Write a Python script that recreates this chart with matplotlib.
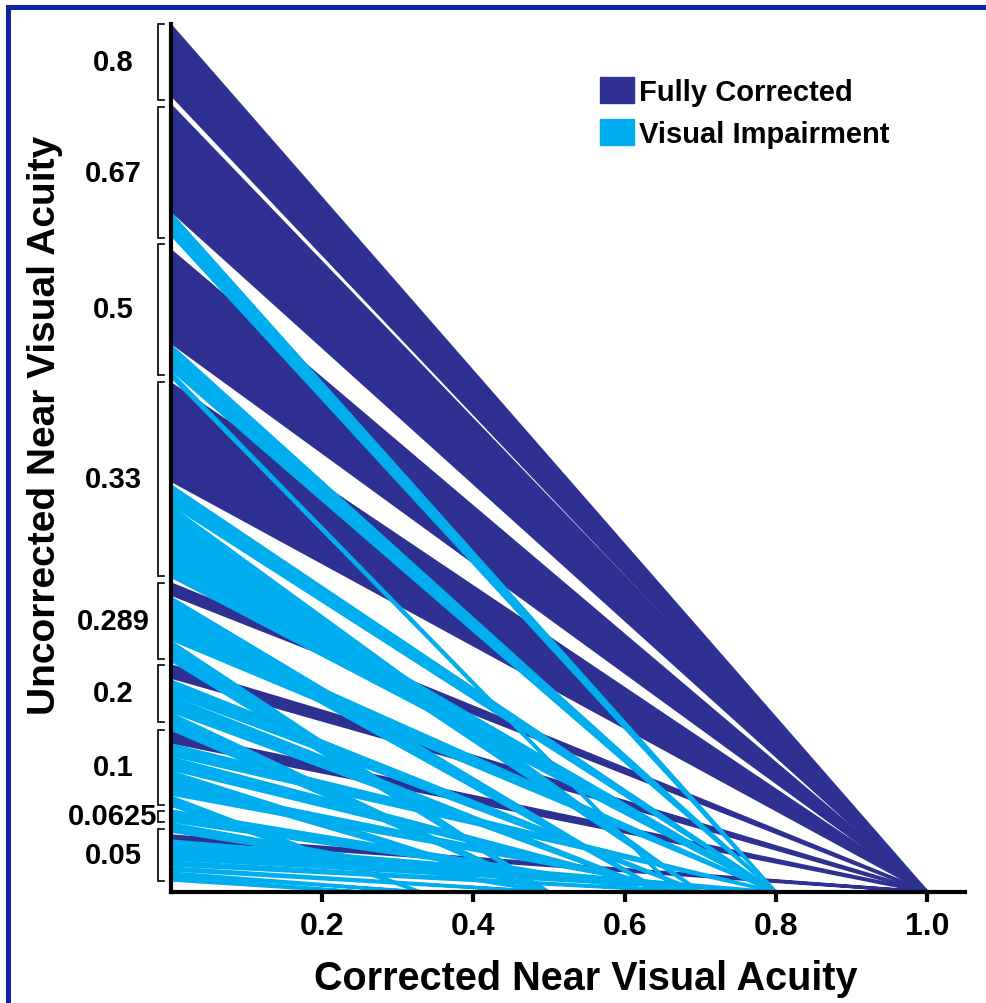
import matplotlib
matplotlib.use('Agg')
import matplotlib.pyplot as plt
from matplotlib.patches import Polygon, Patch, Rectangle
from matplotlib.transforms import blended_transform_factory

plt.rcParams['font.family'] = ['Liberation Sans', 'DejaVu Sans']
plt.rcParams['font.weight'] = 'bold'

DARK = '#2E3192'
LIGHT = '#00AEEF'
FRAME = '#0F24A5'

# ---- Uncorrected near visual acuity categories (y axis, bracketed bands) ----
# positions in axis units above the x axis
uncorrected_labels = ['0.8', '0.67', '0.5', '0.33', '0.289', '0.2', '0.1', '0.0625', '0.05']
band_top = [868, 785, 648, 510, 309, 227, 162, 81, 63]
band_bottom = [792, 654, 517, 316, 233, 170, 87, 70, 11]

# ---- Groups of participants: start range on the y axis -> corrected acuity ----
# FC = Fully Corrected
fc_start_hi = [866, 786, 641, 508, 308, 226, 159, 56]
fc_start_lo = [798, 682, 550, 412, 298, 215, 150, 53]
fc_corrected = [1.0, 1.0, 1.0, 1.0, 1.0, 1.0, 1.0, 1.0]

# VI = Visual Impairment
vi_start_hi = [678, 546, 519,
               406, 385, 350,
               294, 270, 250,
               211, 195, 178,
               147, 134, 120, 107, 95,
               81, 68,
               51, 30, 24, 19, 15]
vi_start_lo = [658, 523, 516,
               388, 353, 316,
               273, 253, 232,
               198, 181, 163,
               137, 123, 110, 98, 87,
               71, 61,
               33, 27, 22, 17, 12]
vi_corrected = [0.8, 0.8, 0.67,
                0.8, 0.7, 0.8,
                0.65, 0.8, 0.5,
                0.7, 0.65, 0.5,
                0.8, 0.67, 0.5, 0.7, 0.33,
                0.65, 0.5,
                0.8, 0.7, 0.5, 0.33, 0.25]

x_ticks = [0.2, 0.4, 0.6, 0.8, 1.0]

fig = plt.figure(figsize=(9.86, 10.04), dpi=100)
ax = fig.add_axes([171 / 986, 111 / 1004, 794 / 986, 868 / 1004])
ax.set_xlim(0, 1.05)
ax.set_ylim(0, 868)


def draw_group(his, los, ends, color, z):
    for hi, lo, end in zip(his, los, ends):
        poly = Polygon([[0, hi], [0, lo], [end, 0]], closed=True,
                       facecolor=color, edgecolor=color, linewidth=2.4,
                       joinstyle='round', zorder=z)
        ax.add_patch(poly)


draw_group(fc_start_hi, fc_start_lo, fc_corrected, DARK, 2)
draw_group(vi_start_hi, vi_start_lo, vi_corrected, LIGHT, 3)

# spines / ticks
for s in ['top', 'right']:
    ax.spines[s].set_visible(False)
for s in ['left', 'bottom']:
    ax.spines[s].set_linewidth(3.0)
    ax.spines[s].set_zorder(5)
ax.set_yticks([])
ax.set_xticks(x_ticks)
ax.set_xticklabels([f'{t:.1f}' for t in x_ticks], fontsize=23, fontweight='bold')
ax.tick_params(axis='x', direction='out', length=7, width=3, pad=7)

# brackets and category labels
trans = blended_transform_factory(ax.transAxes, ax.transData)
xb = (158 - 171) / 794
xs = (164 - 171) / 794
xl = (113 - 171) / 794
for lab, top, bot in zip(uncorrected_labels, band_top, band_bottom):
    ax.plot([xs, xb, xb, xs], [top, top, bot, bot], transform=trans,
            color='black', lw=1.2, clip_on=False, solid_joinstyle='miter')
    ax.text(xl, (top + bot) / 2, lab, transform=trans, ha='center', va='center',
            fontsize=21, fontweight='bold')

# axis labels
fig.text(586 / 986, 1 - 990 / 1004, 'Corrected Near Visual Acuity', ha='center',
         va='baseline', fontsize=28.5, fontweight='bold')
fig.text(55 / 986, 1 - 425 / 1004, 'Uncorrected Near Visual Acuity', ha='center',
         va='baseline', rotation=90, rotation_mode='anchor', fontsize=28,
         fontweight='bold')

# legend
handles = [Patch(facecolor=DARK, edgecolor=DARK, label='Fully Corrected'),
           Patch(facecolor=LIGHT, edgecolor=LIGHT, label='Visual Impairment')]
fig.legend(handles=handles, loc='upper left',
           bbox_to_anchor=(600 / 986, 1 - 78 / 1004), frameon=False,
           prop={'weight': 'bold', 'size': 21},
           handlelength=1.15, handleheight=1.0, handletextpad=0.2,
           labelspacing=0.45, borderpad=0, borderaxespad=0)

# outer frame
fig.patches.append(Rectangle((7.5 / 986, -0.05), 1.2, 1.05 - 7.5 / 1004,
                             transform=fig.transFigure, fill=False,
                             edgecolor=FRAME, lw=3.6))

fig.savefig('out.png', dpi=100)
